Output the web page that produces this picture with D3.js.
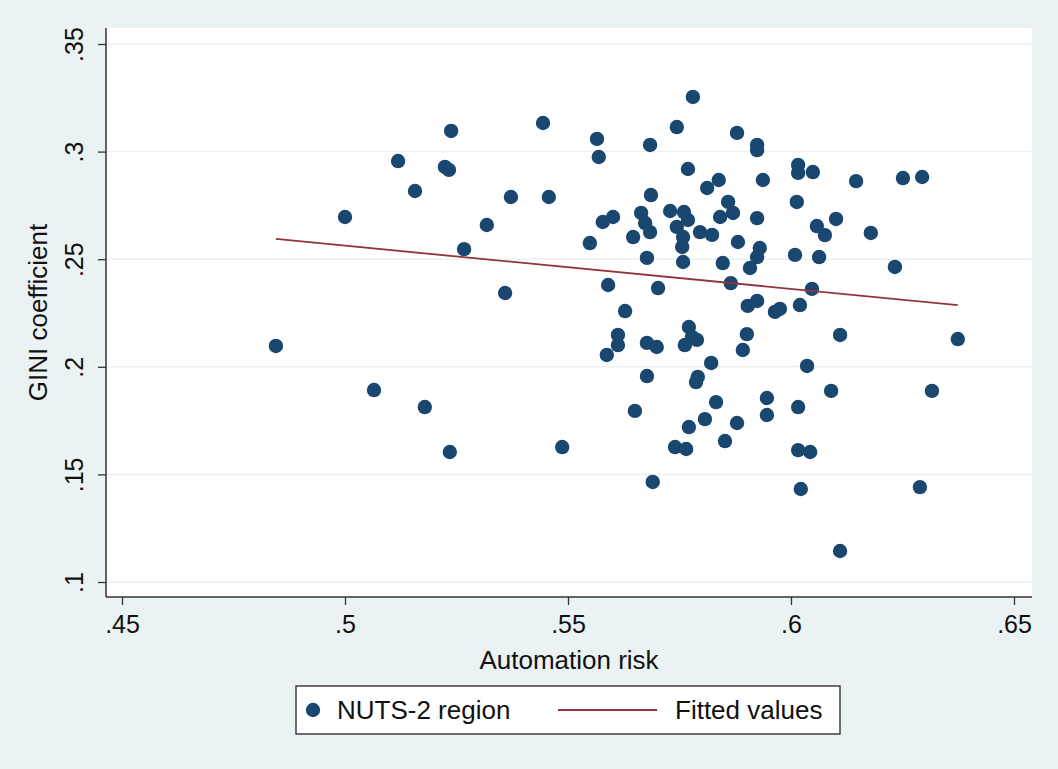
<!DOCTYPE html>
<html>
<head>
<meta charset="utf-8">
<script src="https://cdn.jsdelivr.net/npm/d3@7"></script>
<style>
  html, body { margin: 0; padding: 0; background: #eaf2f3; }
  svg { display: block; }
  text { font-family: "Liberation Sans", Arial, Helvetica, sans-serif; fill: #111; }
</style>
</head>
<body>
<svg id="chart" width="1058" height="769"></svg>
<script>
// Automation risk (x) and GINI coefficient (y) for each NUTS-2 region
const risk = [
  0.4845, 0.5000, 0.5065, 0.5119, 0.5157, 0.5179, 0.5224, 0.5233, 0.5238, 0.5235,
  0.5267, 0.5318, 0.5359, 0.5372, 0.5444, 0.5457, 0.5487, 0.5565, 0.5569, 0.5549,
  0.5578, 0.5601, 0.5590, 0.5587, 0.5612, 0.5612, 0.5628, 0.5646, 0.5650, 0.5664,
  0.5673, 0.5684, 0.5677, 0.5686, 0.5684, 0.5677, 0.5677, 0.5699, 0.5690, 0.5702,
  0.5729, 0.5744, 0.5744, 0.5780, 0.5769, 0.5740, 0.5765, 0.5760, 0.5769, 0.5756,
  0.5758, 0.5758, 0.5771, 0.5762, 0.5789, 0.5778, 0.5771, 0.5796, 0.5823, 0.5791,
  0.5787, 0.5812, 0.5838, 0.5821, 0.5807, 0.5832, 0.5852, 0.5879, 0.5847, 0.5865,
  0.5859, 0.5841, 0.5870, 0.5879, 0.5881, 0.5924, 0.5924, 0.5937, 0.5924, 0.5930,
  0.5924, 0.5908, 0.5903, 0.5924, 0.5901, 0.5892, 0.5964, 0.5975, 0.5946, 0.5946,
  0.6016, 0.6016, 0.6049, 0.6013, 0.6009, 0.6020, 0.6047, 0.6036, 0.6016, 0.6016,
  0.6043, 0.6022, 0.6058, 0.6076, 0.6063, 0.6101, 0.6110, 0.6090, 0.6110, 0.6146,
  0.6179, 0.6233, 0.6251, 0.6294, 0.6289, 0.6316, 0.6374
];
const gini = [
  0.2097, 0.2696, 0.1892, 0.2956, 0.2817, 0.1813, 0.2929, 0.2915, 0.3096, 0.1604,
  0.2547, 0.2659, 0.2343, 0.2789, 0.3133, 0.2789, 0.1627, 0.3059, 0.2975, 0.2575,
  0.2673, 0.2696, 0.2380, 0.2055, 0.2148, 0.2101, 0.2259, 0.2603, 0.1795, 0.2715,
  0.2668, 0.2626, 0.2506, 0.2798, 0.3031, 0.1957, 0.2111, 0.2092, 0.1465, 0.2366,
  0.2724, 0.2650, 0.3114, 0.3254, 0.2919, 0.1627, 0.1618, 0.2719, 0.2682, 0.2557,
  0.2487, 0.2603, 0.2185, 0.2101, 0.2125, 0.2139, 0.1720, 0.2626, 0.2613, 0.1953,
  0.1929, 0.2831, 0.2868, 0.2018, 0.1757, 0.1836, 0.1655, 0.1739, 0.2482, 0.2389,
  0.2766, 0.2696, 0.2715, 0.3087, 0.2580, 0.3031, 0.3007, 0.2868, 0.2691, 0.2552,
  0.2510, 0.2459, 0.2283, 0.2306, 0.2152, 0.2078, 0.2255, 0.2269, 0.1855, 0.1776,
  0.2938, 0.2901, 0.2905, 0.2766, 0.2520, 0.2287, 0.2362, 0.2004, 0.1813, 0.1613,
  0.1604, 0.1432, 0.2654, 0.2612, 0.2510, 0.2687, 0.2148, 0.1888, 0.1144, 0.2863,
  0.2622, 0.2464, 0.2877, 0.2882, 0.1441, 0.1888, 0.2129
];

// Linear fit drawn across the observed range of automation risk
const fitRisk = [0.4845, 0.6374];
const fitGini = [0.2594, 0.2287];

const xTicks = [0.45, 0.5, 0.55, 0.6, 0.65];
const xTickLabels = [".45", ".5", ".55", ".6", ".65"];
const yTicks = [0.1, 0.15, 0.2, 0.25, 0.3, 0.35];
const yTickLabels = [".1", ".15", ".2", ".25", ".3", ".35"];

const xTitle = "Automation risk";
const yTitle = "GINI coefficient";
const legendLabels = ["NUTS-2 region", "Fitted values"];

const W = 1058, H = 769;
const plot = { left: 106, right: 1032, top: 28, bottom: 597 };
const navy = "#1a476f";
const maroon = "#90353b";
const bg = "#eaf2f3";

const svg = d3.select("#chart");

svg.append("rect").attr("x", 0).attr("y", 0).attr("width", W).attr("height", H).attr("fill", bg);
svg.append("rect")
  .attr("x", plot.left).attr("y", plot.top)
  .attr("width", plot.right - plot.left).attr("height", plot.bottom - plot.top)
  .attr("fill", "#ffffff");

const x = d3.scaleLinear().domain([0.45, 0.65]).range([122, 1014]);
const y = d3.scaleLinear().domain([0.1, 0.35]).range([582, 44]);

// horizontal grid
svg.append("g").selectAll("line").data(yTicks).join("line")
  .attr("x1", plot.left).attr("x2", plot.right)
  .attr("y1", d => y(d)).attr("y2", d => y(d))
  .attr("stroke", bg).attr("stroke-width", 1.5);

// axes
const xAxis = d3.axisBottom(x).tickValues(xTicks)
  .tickFormat((d, i) => xTickLabels[i]).tickSize(8).tickSizeOuter(0).tickPadding(6);
const gx = svg.append("g").attr("transform", `translate(0,${plot.bottom})`).call(xAxis);
gx.select(".domain").remove();
gx.selectAll(".tick line").attr("stroke", "#333").attr("stroke-width", 1.3);
gx.selectAll(".tick text").attr("font-size", 25).attr("fill", "#111")
  .attr("dy", null).attr("y", 36);

const yAxis = d3.axisLeft(y).tickValues(yTicks)
  .tickFormat((d, i) => yTickLabels[i]).tickSize(8).tickSizeOuter(0);
const gy = svg.append("g").attr("transform", `translate(${plot.left},0)`).call(yAxis);
gy.select(".domain").remove();
gy.selectAll(".tick line").attr("stroke", "#333").attr("stroke-width", 1.3);
gy.selectAll(".tick text")
  .attr("font-size", 25).attr("fill", "#111")
  .attr("x", null).attr("dy", null)
  .attr("text-anchor", "middle")
  .attr("transform", `translate(-23,0) rotate(-90)`);

svg.append("line")
  .attr("x1", plot.left).attr("x2", plot.left)
  .attr("y1", plot.top).attr("y2", plot.bottom)
  .attr("stroke", "#333").attr("stroke-width", 1.5);
svg.append("line")
  .attr("x1", plot.left).attr("x2", plot.right)
  .attr("y1", plot.bottom).attr("y2", plot.bottom)
  .attr("stroke", "#333").attr("stroke-width", 1.5);

// points
const pts = risk.map((r, i) => ({ r, g: gini[i] }));
svg.append("g").selectAll("circle").data(pts).join("circle")
  .attr("cx", d => x(d.r)).attr("cy", d => y(d.g))
  .attr("r", 7.2).attr("fill", navy);

// fitted line
const fit = fitRisk.map((r, i) => ({ r, g: fitGini[i] }));
svg.append("path").datum(fit)
  .attr("d", d3.line().x(d => x(d.r)).y(d => y(d.g)))
  .attr("fill", "none").attr("stroke", maroon).attr("stroke-width", 1.8);

// axis titles
svg.append("text").attr("x", (plot.left + plot.right) / 2).attr("y", 669)
  .attr("text-anchor", "middle").attr("font-size", 26).text(xTitle);
svg.append("text").attr("transform", `translate(47,${(plot.top + plot.bottom) / 2}) rotate(-90)`)
  .attr("text-anchor", "middle").attr("font-size", 26).text(yTitle);

// legend
const lg = svg.append("g");
lg.append("rect").attr("x", 296).attr("y", 686).attr("width", 544).attr("height", 48)
  .attr("fill", "#fff").attr("stroke", "#333").attr("stroke-width", 1.4);
lg.append("circle").attr("cx", 313).attr("cy", 710).attr("r", 7.2).attr("fill", navy);
lg.append("text").attr("x", 337).attr("y", 719).attr("font-size", 26).text(legendLabels[0]);
lg.append("line").attr("x1", 558).attr("x2", 657).attr("y1", 710).attr("y2", 710)
  .attr("stroke", maroon).attr("stroke-width", 1.8);
lg.append("text").attr("x", 675).attr("y", 719).attr("font-size", 26).text(legendLabels[1]);
</script>
</body>
</html>
